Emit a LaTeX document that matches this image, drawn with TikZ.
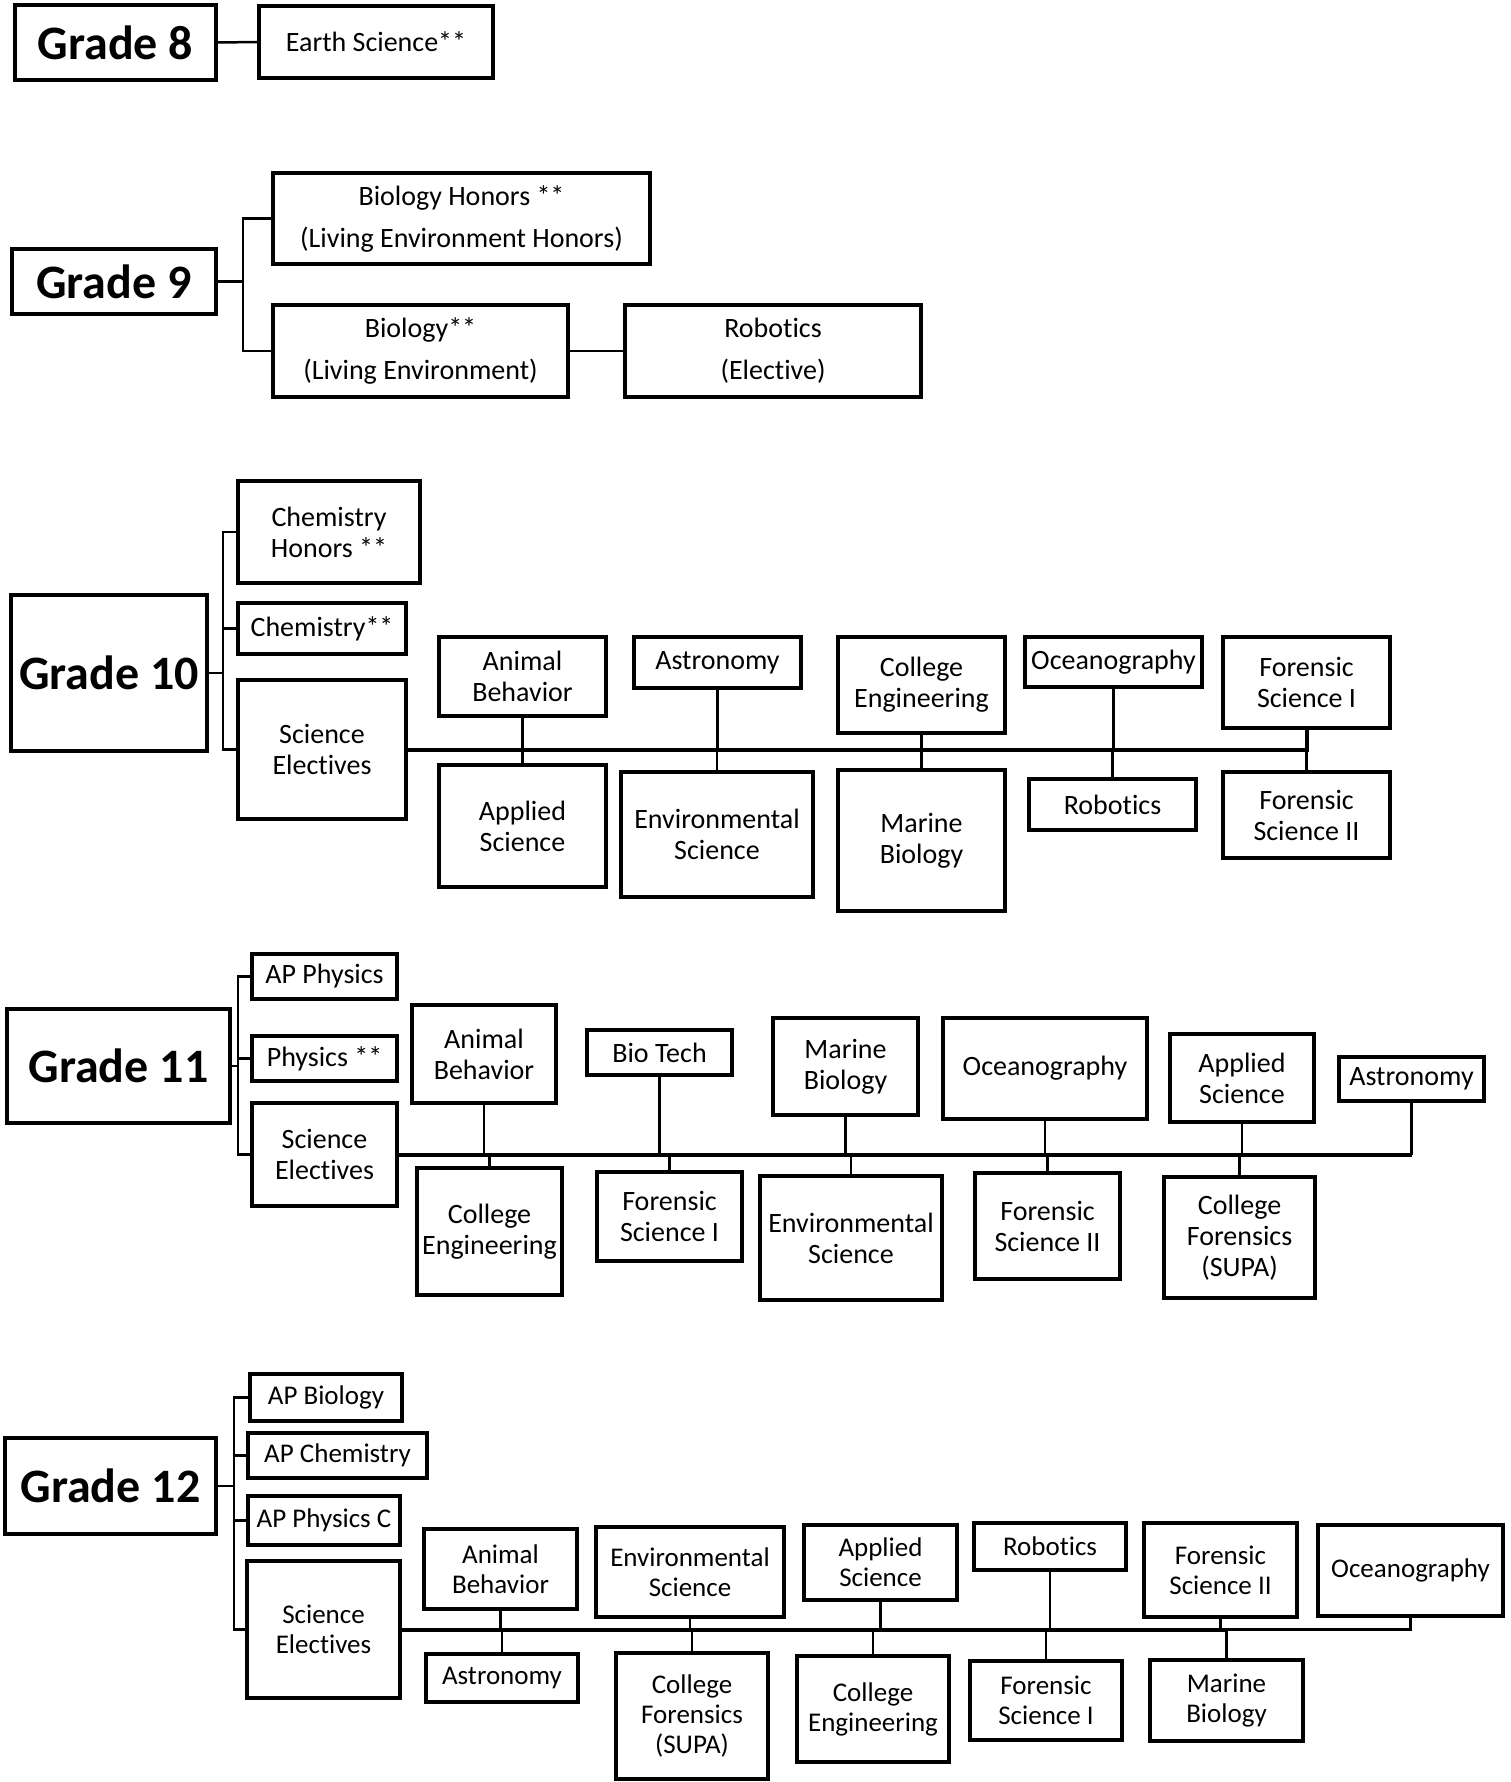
\documentclass[tikz,border=0pt]{standalone}
\usepackage{fontspec}
\setmainfont{Carlito}[Ligatures=NoCommon]
\tikzset{
  box/.style={draw, line width=3.8pt, inner sep=0pt, align=center, font=\fontsize{28}{31}\selectfont},
  wide/.style={font=\fontsize{28}{42}\selectfont},
  small/.style={font=\fontsize{27}{30}\selectfont},
  grade/.style={font=\bfseries\fontsize{48}{52}\selectfont},
  conn/.style={line width=2.5pt},
  bus/.style={line width=4pt}
}
\newcommand\mybox[7][]{\node[box,#1,minimum width={#5-#3},minimum height={#6-#4}] (#2) at ({(#3+#5)/2},{(#4+#6)/2}) {#7};}
\begin{document}
\begin{tikzpicture}[x=1pt,y=-1pt]
\fill[white] (0,0) rectangle (1511,1782);
\useasboundingbox (0,0) rectangle (1511,1782);

% ---------------- Grade 8
\mybox[grade]{g8}{15}{5}{216}{80}{Grade 8}
\mybox{es}{259}{6}{493}{78}{Earth Science**}
\draw[conn] (g8.east) -- (es.west);

% ---------------- Grade 9
\mybox[grade]{g9}{12}{249}{216}{314}{Grade 9}
\mybox[wide]{bh}{273}{173}{650}{264}{Biology Honors **\\(Living Environment Honors)}
\mybox[wide]{bio}{273}{305}{568}{397}{Biology**\\(Living Environment)}
\mybox[wide]{rob9}{625}{305}{921}{397}{Robotics\\(Elective)}
\coordinate (t9) at (243,282);
\draw[conn] (g9.east) -- (g9.east -| t9);
\draw[conn] (bh.west) -| (t9);
\draw[conn] (bio.west) -| (t9);
\draw[conn] (bio.east) -- (rob9.west);

% ---------------- Grade 10
\mybox[grade]{g10}{11}{595}{207}{751}{Grade 10}
\mybox{chh}{238}{481}{420}{583}{Chemistry\\Honors **}
\mybox{ch}{238}{603}{406}{654}{Chemistry**}
\mybox{sce10}{238}{680}{406}{819}{Science\\Electives}
\coordinate (t10) at (223,672);
\draw[conn] (g10.east) -- (g10.east -| t10);
\draw[conn] (chh.west) -| (t10);
\draw[conn] (ch.west) -| (t10);
\draw[conn] (sce10.west) -| (t10);

\mybox{ab10}{439}{637}{606}{716}{Animal\\Behavior}
\mybox{as10}{439}{765}{606}{887}{Applied\\Science}
\mybox{ast10}{634}{637}{801}{688}{Astronomy}
\mybox{env10}{621}{772}{813}{897}{Environmental\\Science}
\mybox{ce10}{838}{637}{1005}{733}{College\\Engineering}
\mybox{mb10}{838}{770}{1005}{911}{Marine\\Biology}
\mybox{oc10}{1025}{637}{1202}{687}{Oceanography}
\mybox{rob10}{1029}{779}{1196}{830}{Robotics}
\mybox{fsa10}{1223}{637}{1390}{728}{Forensic\\Science I}
\mybox{fsb10}{1223}{772}{1390}{858}{Forensic\\Science II}
\draw[bus] (sce10.east) -| (fsa10.south);
\foreach \n in {ab10,ast10,ce10,oc10}
  \draw[conn] (\n.south) -- (\n.south |- sce10.east);
\foreach \n in {as10,env10,mb10,rob10,fsb10}
  \draw[conn] (\n.north) -- (\n.north |- sce10.east);

% ---------------- Grade 11
\mybox[grade]{g11}{7}{1009}{230}{1123}{Grade 11}
\mybox{app}{252}{954}{397}{999}{AP Physics}
\mybox{ph}{252}{1036}{397}{1081}{Physics **}
\mybox{sce11}{252}{1103}{397}{1206}{Science\\Electives}
\coordinate (t11) at (238,1066);
\draw[conn] (g11.east) -- (g11.east -| t11);
\draw[conn] (app.west) -| (t11);
\draw[conn] (ph.west) -| (t11);
\draw[conn] (sce11.west) -| (t11);

\mybox{ab11}{412}{1005}{556}{1103}{Animal\\Behavior}
\mybox{ce11}{417}{1168}{562}{1295}{College\\Engineering}
\mybox{bt11}{587}{1030}{732}{1075}{Bio Tech}
\mybox{fsa11}{597}{1172}{742}{1261}{Forensic\\Science I}
\mybox{mb11}{773}{1018}{918}{1115}{Marine\\Biology}
\mybox{env11}{760}{1176}{942}{1300}{Environmental\\Science}
\mybox{oc11}{943}{1018}{1147}{1119}{Oceanography}
\mybox{fsb11}{975}{1173}{1120}{1279}{Forensic\\Science II}
\mybox{as11}{1170}{1034}{1314}{1122}{Applied\\Science}
\mybox{cf11}{1164}{1177}{1315}{1298}{College\\Forensics\\(SUPA)}
\mybox{ast11}{1339}{1057}{1484}{1101}{Astronomy}
\draw[bus] (sce11.east) -- (sce11.east -| ast11.south);
\draw[conn] (sce11.east -| ast11.south) -- (ast11.south);
\foreach \n in {ab11,bt11,mb11,oc11,as11}
  \draw[conn] (\n.south) -- (\n.south |- sce11.east);
\foreach \n in {ce11,fsa11,env11,fsb11,cf11}
  \draw[conn] (\n.north) -- (\n.north |- sce11.east);

% ---------------- Grade 12
\mybox[grade]{g12}{5}{1438}{216}{1534}{Grade 12}
\mybox[small]{apb}{250}{1374}{402}{1421}{AP Biology}
\mybox[small]{apc}{248}{1433}{427}{1478}{AP Chemistry}
\mybox[small]{apph}{248}{1496}{400}{1545}{AP Physics C}
\mybox[small]{sce12}{247}{1561}{400}{1698}{Science\\Electives}
\coordinate (t12) at (234,1486);
\draw[conn] (g12.east) -- (g12.east -| t12);
\draw[conn] (apb.west) -| (t12);
\draw[conn] (apc.west) -| (t12);
\draw[conn] (apph.west) -| (t12);
\draw[conn] (sce12.west) -| (t12);

\mybox[small]{ab12}{424}{1529}{577}{1609}{Animal\\Behavior}
\mybox[small]{ast12}{426}{1654}{578}{1702}{Astronomy}
\mybox[small]{env12}{596}{1527}{784}{1617}{Environmental\\Science}
\mybox[small]{cf12}{616}{1653}{768}{1779}{College\\Forensics\\(SUPA)}
\mybox[small]{as12}{804}{1525}{957}{1600}{Applied\\Science}
\mybox[small]{ce12}{797}{1656}{949}{1762}{College\\Engineering}
\mybox[small]{rob12}{974}{1523}{1126}{1570}{Robotics}
\mybox[small]{fsa12}{970}{1661}{1122}{1740}{Forensic\\Science I}
\mybox[small]{fsb12}{1144}{1523}{1297}{1617}{Forensic\\Science II}
\mybox[small]{mb12}{1150}{1660}{1303}{1741}{Marine\\Biology}
\mybox[small]{oc12}{1318}{1525}{1503}{1616}{Oceanography}
\draw[bus] (sce12.east) -- (sce12.east -| mb12.north);
\draw[conn] (sce12.east -| mb12.north) -| (oc12.south);
\foreach \n in {ab12,env12,as12,rob12,fsb12}
  \draw[conn] (\n.south) -- (\n.south |- sce12.east);
\foreach \n in {ast12,cf12,ce12,fsa12,mb12}
  \draw[conn] (\n.north) -- (\n.north |- sce12.east);
\end{tikzpicture}
\end{document}
